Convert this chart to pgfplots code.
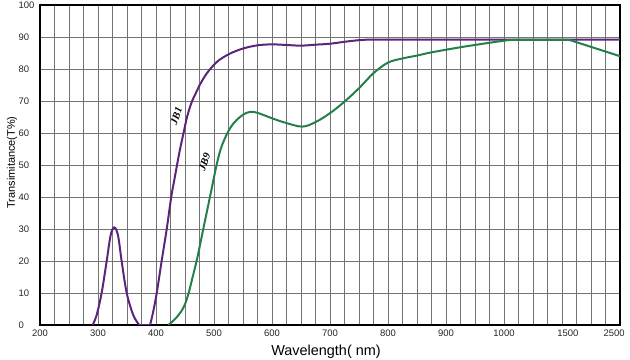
\documentclass[border=0pt]{standalone}
\usepackage{fontspec}
\setmainfont{Liberation Sans}
\newfontfamily\jbfont{Liberation Serif}
\usepackage{pgfplots}
\pgfplotsset{compat=1.18}
\definecolor{jbone}{RGB}{92,36,124}
\definecolor{jbnine}{RGB}{36,128,72}
\begin{document}
\begin{tikzpicture}
\useasboundingbox (-40bp,-35bp) rectangle (590bp,325bp);
\begin{axis}[
  at={(0,0)}, anchor=south west,
  scale only axis, width=580bp, height=320bp,
  xmin=0, xmax=40, ymin=0, ymax=100,
  xtick={0,4,8,12,16,20,24,28,32,36.4,39.6},
  xticklabels={200,300,400,500,600,700,800,900,1000,1500,2500},
  minor xtick={0,1,...,40},
  xminorgrids=true, xmajorgrids=false,
  ytick={0,10,...,100}, ymajorgrids=true,
  major tick length=0pt, minor tick length=0pt,
  grid style={black!55, line width=0.6pt},
  minor grid style={black!55, line width=0.6pt},
  axis line style={line width=2.2pt},
  /pgf/number format/assume math mode=true,
  tick label style={font=\fontsize{9.5}{11}\selectfont, text=black!85},
  yticklabel style={anchor=west, xshift=-25bp},
  xticklabel style={yshift=-1bp},
]
% JB1 peak
\addplot[jbone, line width=2pt, smooth, tension=0.55] coordinates {
(3.63,0)(3.9,3)(4.25,10)(4.6,20)(4.87,28)(5.12,30.5)(5.38,28)(5.63,20)(5.98,10)(6.44,3)(6.85,0)};
\addplot[jbone, line width=2pt] coordinates {(6.85,0)(7.59,0)};
% JB1 main
\addplot[jbone, line width=2pt, smooth, tension=0.55] coordinates {
(7.59,0)(7.8,4)(8.05,10)(8.39,20)(8.74,30)(9.05,40)(9.25,45)(9.45,50)(9.66,55)(9.9,60)(10.14,65)(10.45,69.5)(10.75,72.5)(11.05,75.3)(11.35,77.6)(11.7,79.8)(12.3,82.6)(13.1,84.8)(14,86.4)(15,87.4)(16,87.7)(17,87.5)(18,87.3)(19,87.6)(20,87.9)(21,88.5)(22,89)(23,89.2)(26,89.2)(30,89.2)(35,89.2)(40,89.2)};
% JB9
\addplot[jbnine, line width=2pt, smooth, tension=0.55] coordinates {
(8.85,0)(9.3,1.8)(9.7,4)(10.0,6.5)(10.25,10)(10.5,14.5)(10.85,21)(11.26,30)(11.72,40)(12.18,50)(12.5,55.5)(12.95,60.2)(13.4,63.3)(14,65.7)(14.5,66.6)(15,66.3)(16,64.6)(17,63.1)(18.1,62)(19,63.4)(20,66.2)(21,69.8)(22,74)(23,78.7)(24,82)(25,83.3)(26,84.2)(27,85.2)(29,86.8)(31,88.2)(32.4,89.1)};
\addplot[jbnine, line width=2pt] coordinates {(32.4,89.1)(36.5,89.1)(40,84)};
\node[rotate=70, font=\jbfont\bfseries\itshape\fontsize{10.5}{12}\selectfont] at (axis cs:9.4,65.3) {JB1};
\node[rotate=70, font=\jbfont\bfseries\itshape\fontsize{10.5}{12}\selectfont] at (axis cs:11.35,51) {JB9};
\end{axis}
\node[font=\fontsize{14.5}{16}\selectfont] at (286bp,-27bp) {Wavelength( nm)};
\node[rotate=90, font=\fontsize{11}{13}\selectfont] at (-28bp,162.5bp) {Transimitance(T\%)};
\end{tikzpicture}
\end{document}
